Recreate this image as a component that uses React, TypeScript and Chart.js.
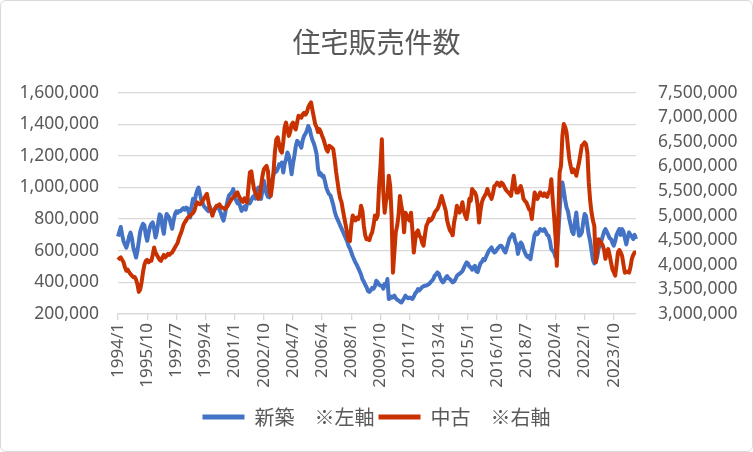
import { useEffect, useRef } from "react";
import { Chart, registerables } from "chart.js";

Chart.register(...registerables);

// monthly series, 1994/1 .. 2025/2, values in thousands
const START_YEAR = 1994;
const LABEL_STEP = 21;

// 新築 (left axis)
const shinchiku = [
  690, 720, 750, 700, 660, 640, 620, 650, 690, 715, 680, 620,
  590, 557, 600, 660, 720, 750, 770, 760, 700, 663, 710, 750,
  770, 779, 740, 684, 720, 780, 830, 820, 750, 707, 780, 833,
  820, 808, 770, 739, 790, 830, 850, 840, 852, 850, 860, 870,
  860, 873, 870, 840, 810, 880, 928, 900, 950, 980, 1000, 960,
  920, 900, 880, 870, 860, 850, 880, 860, 832, 850, 870, 873,
  880, 860, 840, 810, 790, 830, 880, 920, 950, 960, 970, 990,
  950, 920, 900, 916, 880, 852, 870, 880, 860, 900, 920, 900,
  920, 940, 947, 930, 960, 1000, 960, 928, 980, 1042, 1000, 960,
  940, 937, 980, 1050, 1080, 1118, 1100, 1118, 1147, 1140, 1158, 1095,
  1150, 1180, 1221, 1200, 1150, 1084, 1150, 1200, 1260, 1295, 1284, 1270,
  1252, 1300, 1326, 1340, 1360, 1389, 1370, 1330, 1300, 1280, 1250, 1211,
  1120, 1080, 1090, 1070, 1074, 1040, 1000, 975, 958, 950, 920, 890,
  850, 820, 800, 780, 760, 740, 720, 700, 680, 660, 630, 615,
  590, 565, 545, 525, 510, 490, 470, 450, 420, 405, 385, 370,
  345, 340, 350, 365, 360, 375, 410, 400, 385, 380, 379, 360,
  390, 380, 421, 295, 300, 310, 305, 316, 300, 290, 285, 278,
  273, 285, 300, 316, 305, 300, 305, 300, 295, 310, 330, 340,
  358, 350, 360, 370, 375, 379, 380, 385, 390, 400, 410, 420,
  442, 450, 463, 455, 430, 410, 400, 410, 430, 440, 425, 421,
  410, 400, 405, 420, 440, 450, 455, 463, 470, 490, 510, 526,
  520, 500, 495, 480, 495, 505, 470, 465, 494, 520, 530, 547,
  540, 560, 580, 600, 610, 621, 600, 589, 595, 610, 620, 630,
  632, 620, 600, 589, 620, 650, 680, 690, 705, 700, 660, 640,
  580, 620, 652, 640, 610, 590, 570, 560, 568, 547, 600, 650,
  700, 716, 705, 720, 737, 730, 726, 737, 720, 700, 695, 663,
  611, 600, 590, 560, 600, 700, 850, 980, 1031, 980, 920, 873,
  850, 800, 760, 720, 705, 780, 842, 760, 695, 700, 716, 780,
  832, 820, 760, 700, 660, 600, 540, 520, 526, 560, 611, 640,
  660, 690, 720, 737, 720, 700, 680, 674, 650, 632, 660, 700,
  720, 737, 700, 737, 720, 680, 640, 680, 716, 700, 690, 674,
  700, 674,
];

// 中古 (right axis)
const chuko = [
  4100, 4130, 4150, 4100, 4050, 3950, 3880, 3900, 3850, 3810, 3780, 3750,
  3750, 3700, 3600, 3450, 3500, 3650, 3850, 4000, 4080, 4100, 4050, 4080,
  4080, 4200, 4350, 4250, 4200, 4150, 4100, 4080, 4150, 4200, 4150, 4180,
  4220, 4200, 4230, 4250, 4300, 4350, 4400, 4450, 4550, 4620, 4700, 4800,
  4860, 4900, 4950, 4980, 5000, 5030, 5050, 5100, 5200, 5270, 5250, 5230,
  5250, 5300, 5350, 5400, 5440, 5300, 5150, 5100, 5000, 5100, 5150, 5200,
  5200, 5230, 5180, 5160, 5150, 5130, 5160, 5200, 5250, 5300, 5340, 5370,
  5400, 5450, 5470, 5400, 5350, 5300, 5280, 5350, 5300, 5270, 5600, 5880,
  5900, 5700, 5540, 5450, 5400, 5340, 5380, 5600, 5800, 5940, 5980, 6010,
  5900, 5500, 5400, 5600, 5900, 6300, 6550, 6590, 6450, 6320, 6280, 6500,
  6800, 6890, 6750, 6620, 6700, 6850, 6890, 6800, 6750, 6900, 7030, 7000,
  6990, 7060, 7090, 7050, 7100, 7200, 7260, 7300, 7150, 7000, 6860, 6800,
  6700, 6760, 6700, 6620, 6550, 6450, 6350, 6300, 6420, 6400, 6380, 6350,
  6150, 5900, 5700, 5500, 5350, 5270, 5100, 4950, 4800, 4650, 4500, 4480,
  4800, 5000, 4950, 4900, 4960, 4930, 5000, 5200, 5100, 4800, 4600, 4520,
  4520, 4500, 4600, 4660, 4800, 5000, 4930, 5000, 5600, 6000, 6550, 5500,
  5060, 5300, 5400, 5810, 5600, 5000, 3840, 4250, 4660, 4790, 5000, 5400,
  5200, 5060, 4660, 5060, 5000, 4930, 4900, 5060, 4700, 4250, 4500, 4660,
  4700, 4590, 4560, 4450, 4390, 4600, 4790, 4850, 4930, 4900, 4930, 4980,
  5060, 5100, 5130, 5200, 5300, 5400, 5300, 5200, 5100, 4900, 4790, 4700,
  4660, 4600, 4860, 5000, 5200, 5100, 5060, 5150, 5270, 5100, 5000, 4930,
  5100, 5340, 5300, 5540, 5500, 5470, 5400, 5200, 4860, 5100, 5270, 5350,
  5400, 5450, 5540, 5450, 5400, 5340, 5450, 5600, 5620, 5670, 5650, 5600,
  5670, 5650, 5600, 5540, 5500, 5470, 5440, 5400, 5600, 5810, 5600, 5470,
  5470, 5550, 5600, 5500, 5340, 5300, 5270, 5200, 5130, 5100, 4930, 5200,
  5470, 5400, 5340, 5400, 5470, 5420, 5400, 5450, 5400, 5380, 5470, 5500,
  5740, 5340, 5000, 4590, 3980, 4930, 5880, 6010, 6620, 6860, 6800, 6690,
  6400, 6150, 6000, 5880, 5940, 5900, 5810, 5950, 6080, 6250, 6420, 6450,
  6490, 6450, 6280, 5670, 5300, 5060, 4900, 4790, 4050, 4300, 4520, 4480,
  4450, 4400, 4300, 4120, 4250, 4320, 4200, 4050, 3910, 3850, 3780, 4000,
  4250, 4300, 4250, 4180, 4000, 3840, 3850, 3860, 3840, 3950, 4120, 4200,
  4250, 4250,
];

const months = shinchiku.map(
  (_, i) => `${START_YEAR + Math.floor(i / 12)}/${(i % 12) + 1}`
);

const BLUE = "#4472C4";
const RED = "#C83200";
const TEXT = "#595959";
const GRID = "#d9d9d9";
const CJK = "'Noto Sans CJK JP', 'Noto Sans', sans-serif";
const NUM = "'Noto Sans', sans-serif";

const fmt = (v: number) => (v * 1000).toLocaleString("en-US");

export default function App() {
  const ref = useRef<HTMLCanvasElement>(null);

  useEffect(() => {
    if (!ref.current) return;
    const chart = new Chart(ref.current, {
      type: "line",
      data: {
        labels: months,
        datasets: [
          {
            label: "新築　※左軸",
            data: shinchiku,
            borderColor: BLUE,
            backgroundColor: BLUE,
            borderWidth: 4,
            pointRadius: 0,
            tension: 0,
            borderJoinStyle: "round",
            yAxisID: "y",
            order: 1,
          },
          {
            label: "中古　※右軸",
            data: chuko,
            borderColor: RED,
            backgroundColor: RED,
            borderWidth: 4,
            pointRadius: 0,
            tension: 0,
            borderJoinStyle: "round",
            yAxisID: "y1",
            order: 0,
          },
        ],
      },
      options: {
        animation: false,
        responsive: true,
        maintainAspectRatio: false,
        layout: { padding: { left: 0, right: 0, top: 0, bottom: 14 } },
        plugins: {
          title: {
            display: true,
            text: "住宅販売件数",
            color: TEXT,
            font: { size: 28, family: CJK, weight: "normal" },
            padding: { top: 25, bottom: 33 },
          },
          legend: {
            position: "bottom",
            labels: {
              color: TEXT,
              font: { size: 20, family: CJK },
              boxWidth: 42,
              boxHeight: 5,
              padding: 4,
              sort: (a: any, b: any) => a.datasetIndex - b.datasetIndex,
              generateLabels: (c: any) =>
                Chart.defaults.plugins.legend.labels
                  .generateLabels(c)
                  .map((l: any) => ({ ...l, lineWidth: 0 })),
            },
          },
          tooltip: { enabled: false },
        },
        scales: {
          x: {
            type: "category",
            offset: false,
            grid: {
              drawOnChartArea: false,
              color: GRID,
              lineWidth: 1.3,
              tickLength: 6,
            },
            border: { color: GRID, width: 1.3 },
            ticks: {
              autoSkip: false,
              minRotation: 90,
              maxRotation: 90,
              color: TEXT,
              font: { size: 17, family: NUM },
              padding: 3,
              callback: (_v: any, i: number) =>
                i % LABEL_STEP === 0 ? months[i] : null,
            },
            afterFit: (s: any) => {
              s.height = 89;
            },
          },
          y: {
            position: "left",
            min: 200,
            max: 1600,
            ticks: {
              stepSize: 200,
              color: TEXT,
              font: { size: 17.5, family: NUM },
              padding: 19,
              callback: (v: any) => fmt(v),
            },
            grid: { color: GRID, lineWidth: 1.3, drawTicks: false },
            border: { display: false },
            afterFit: (s: any) => {
              s.width = 117;
            },
          },
          y1: {
            position: "right",
            min: 3000,
            max: 7500,
            ticks: {
              stepSize: 500,
              color: TEXT,
              font: { size: 17.5, family: NUM },
              padding: 22,
              callback: (v: any) => fmt(v),
            },
            grid: { drawOnChartArea: false, drawTicks: false },
            border: { display: false },
            afterFit: (s: any) => {
              s.width = 116;
            },
          },
        },
      },
    });
    return () => chart.destroy();
  }, []);

  return (
    <div
      style={{
        position: "fixed",
        left: 0,
        top: 0,
        width: 753,
        height: 452,
        boxSizing: "border-box",
        border: "1px solid #d9d9d9",
        borderRadius: 6,
        background: "#fff",
      }}
    >
      <canvas ref={ref} />
    </div>
  );
}
